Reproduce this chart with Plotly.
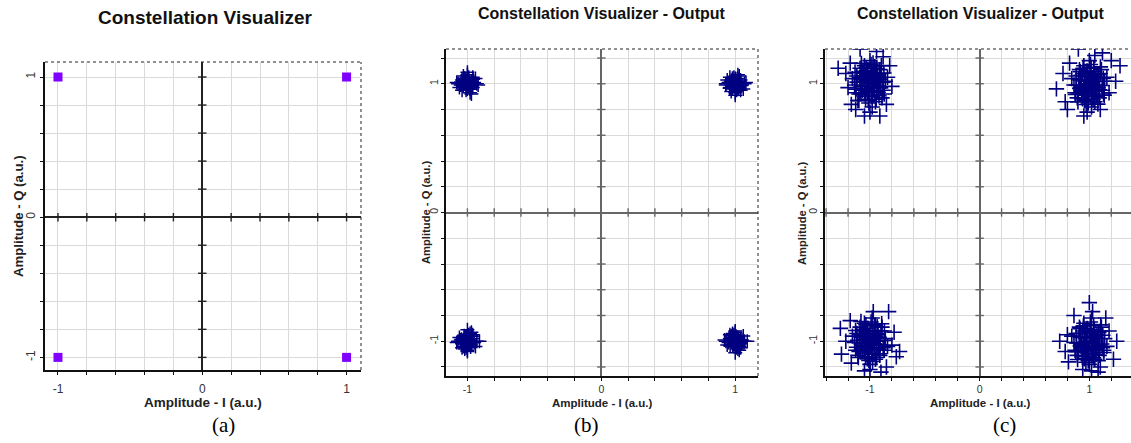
import plotly.graph_objects as go

# ---------------- data ----------------
# (a) ideal QPSK constellation
a_I = [-1, 1, -1, 1]
a_Q = [1, 1, -1, -1]

# (b) output, low noise (one list per symbol cluster)
b_tl_I = [-1.00,-0.97,-1.03,-0.98,-1.02,-0.95,-1.05,-0.99,-1.01,-0.96,-1.04,-0.93,-1.07,-1.00,-0.98,-1.02,-0.97,-1.03,-0.94,-1.06,-1.00,-0.99,-1.01,-0.96,-1.04,-0.92,-1.08,-1.00,-0.97,-1.03,
          -1.013,-0.987,-1.028,-0.972,-1.041,-0.958,-1.006,-0.994,-1.022,-0.978,-1.035,-0.965,-1.011,-0.989,-1.047]
b_tl_Q = [1.00,1.02,0.98,0.96,1.04,1.01,0.99,1.05,0.95,0.97,1.03,1.00,1.00,1.07,0.93,1.02,0.98,1.01,1.04,0.97,0.96,1.03,0.99,1.05,0.95,0.99,1.01,1.09,0.92,1.06,
          1.018,0.984,1.027,0.971,0.992,1.036,0.963,1.011,1.042,0.957,1.006,0.988,1.031,0.976,1.014]
b_tr_I = [1.00,1.03,0.97,1.02,0.98,1.05,0.95,1.01,0.99,1.04,0.96,1.07,0.93,1.00,1.02,0.98,1.03,0.97,1.06,0.94,1.00,1.01,0.99,1.04,0.96,1.08,0.93,1.00,1.03,0.97,
          1.012,0.986,1.027,0.973,1.042,0.959,1.005,0.995,1.021,0.979,1.036,0.964,1.012,0.988,1.046]
b_tr_Q = [1.00,0.98,1.02,1.04,0.96,0.99,1.01,0.95,1.05,1.03,0.97,1.00,1.00,0.93,1.07,0.98,1.02,0.99,0.96,1.03,1.04,0.97,1.01,0.95,1.05,1.01,0.99,0.91,1.06,0.94,
          0.983,1.017,0.972,1.028,1.007,0.965,1.038,0.989,0.958,1.043,0.994,1.012,0.969,1.024,0.986]
b_bl_I = [-1.00,-0.98,-1.02,-0.97,-1.03,-0.95,-1.05,-1.01,-0.99,-0.96,-1.04,-0.93,-1.07,-1.00,-0.97,-1.03,-0.98,-1.02,-0.94,-1.06,-1.01,-0.99,-1.00,-1.04,-0.96,-0.91,-1.08,-1.00,-0.98,-1.02,
          -1.016,-0.984,-1.025,-0.975,-1.038,-0.961,-1.008,-0.992,-1.024,-0.976,-1.033,-0.967,-1.013,-0.987,-1.044]
b_bl_Q = [-1.00,-1.03,-0.97,-0.96,-1.04,-1.01,-0.99,-1.05,-0.95,-0.98,-1.02,-1.00,-1.00,-1.08,-0.93,-1.02,-0.98,-1.01,-1.04,-0.97,-0.96,-1.03,-0.91,-1.05,-0.95,-1.00,-1.01,-1.07,-0.94,-1.06,
          -0.982,-1.016,-0.973,-1.029,-1.008,-0.964,-1.037,-0.988,-0.957,-1.044,-0.993,-1.011,-0.968,-1.026,-0.985]
b_br_I = [1.00,1.02,0.98,1.03,0.97,1.05,0.95,0.99,1.01,1.04,0.96,1.07,0.93,1.00,1.03,0.97,1.02,0.98,1.06,0.94,0.99,1.01,1.00,0.96,1.04,1.09,0.92,1.00,1.02,0.98,
          1.014,0.982,1.026,0.974,1.039,0.962,1.007,0.993,1.023,0.977,1.034,0.966,1.014,0.986,1.043]
b_br_Q = [-1.00,-0.97,-1.03,-1.04,-0.96,-0.99,-1.01,-0.95,-1.05,-1.02,-0.98,-1.00,-1.00,-0.93,-1.07,-0.98,-1.02,-0.99,-0.96,-1.03,-1.04,-0.97,-1.09,-0.95,-1.05,-1.00,-0.99,-0.92,-1.06,-0.94,
          -1.019,-0.983,-1.028,-0.972,-0.991,-1.035,-0.962,-1.012,-1.041,-0.956,-1.007,-0.987,-1.032,-0.977,-1.013]

# (c) output, high noise: (I, Q) points per cluster
c_tl = [(-1.00,1.00),(-0.95,1.05),(-1.05,0.96),(-0.92,0.98),(-1.08,1.03),(-0.98,0.90),(-1.02,1.10),(-0.90,1.08),
        (-1.10,0.92),(-0.96,1.12),(-1.04,0.88),(-0.88,0.95),(-1.12,1.06),(-0.94,0.94),(-1.06,1.08),(-0.99,1.15),
        (-1.01,0.85),(-0.86,1.02),(-1.14,0.99),(-0.93,1.01),(-1.03,1.02),(-0.97,0.97),(-1.07,0.95),(-0.91,1.11),
        (-1.09,1.12),(-0.89,0.89),(-1.11,0.87),(-0.95,0.86),(-1.05,1.14),(-0.84,1.05),(-1.16,1.04),(-0.87,0.92),
        (-1.13,0.93),(-1.00,1.18),(-0.98,0.82),(-1.02,0.94),(-0.96,1.04),(-1.04,1.06),(-0.94,0.99),(-1.08,0.98),
        (-1.013,1.032),(-0.962,0.947),(-1.047,1.017),(-0.931,1.063),(-1.083,0.923),(-0.978,1.087),(-1.026,0.963),
        (-0.947,1.024),(-1.064,1.096),(-0.903,0.968),(-1.118,1.013),(-0.987,0.913),(-1.034,1.123),(-0.918,0.907),
        (-1.092,1.047),(-0.956,1.133),(-1.041,0.904),(-0.873,1.083),(-1.127,0.958),(-0.994,1.058),(-1.007,0.937),
        (-0.938,1.117),(-1.069,0.981),(-0.967,1.002),(-1.021,1.076),(-0.912,1.036),(-1.101,0.869),(-0.983,0.976),
        (-1.055,1.041),(-0.943,0.879),(-1.136,1.089),(-0.896,1.141),(-1.016,0.873),(-0.972,1.161),(-1.078,1.158),
        (-0.925,0.934),(-1.049,0.929),(-0.951,1.073),(-1.029,1.099),(-0.881,1.012),
        (-1.29,1.12),(-1.09,1.27),(-0.94,1.25),(-1.05,0.75),(-0.91,0.75),(-0.85,0.84),(-1.18,1.16),(-0.82,1.14),
        (-1.17,0.84),(-0.80,0.98),(-1.20,0.97),(-1.13,0.80),(-0.88,1.21),(-1.00,0.78),(-1.22,1.08)]
c_tr = [(1.00,1.00),(1.05,1.04),(0.95,0.96),(1.08,0.97),(0.92,1.03),(1.02,0.90),(0.98,1.10),(1.10,1.08),
        (0.90,0.92),(1.04,1.12),(0.96,0.88),(1.12,0.95),(0.88,1.06),(1.06,0.94),(0.94,1.08),(1.01,1.15),
        (0.99,0.85),(1.14,1.02),(0.86,0.99),(1.03,1.01),(0.97,0.98),(1.07,1.05),(0.93,0.95),(1.09,0.89),
        (0.91,1.11),(1.11,1.11),(0.89,0.89),(1.05,0.86),(0.95,1.14),(1.16,1.05),(0.84,1.04),(1.13,0.92),
        (0.87,0.93),(1.00,1.18),(1.02,0.82),(0.98,0.94),(1.04,1.06),(0.96,1.02),(1.06,0.99),(0.92,0.97),
        (1.013,0.968),(0.962,1.053),(1.047,0.983),(0.931,0.937),(1.083,1.077),(0.978,0.913),(1.026,1.037),
        (0.947,0.976),(1.064,0.904),(0.903,1.032),(1.118,0.987),(0.987,1.087),(1.034,0.877),(0.918,1.093),
        (1.092,0.953),(0.956,0.867),(1.041,1.096),(0.873,0.917),(1.127,1.042),(0.994,0.942),(1.007,1.063),
        (0.938,0.883),(1.069,1.019),(0.967,0.998),(1.021,0.924),(0.912,0.964),(1.101,1.131),(0.983,1.024),
        (1.055,0.959),(0.943,1.121),(1.136,0.911),(0.896,0.859),(1.016,1.127),(0.972,0.839),(1.078,0.842),
        (0.925,1.066),(1.049,1.071),(0.951,0.927),(1.029,0.901),(0.881,0.988),
        (0.70,0.96),(0.76,1.08),(1.28,1.14),(0.90,1.27),(1.12,1.24),(0.95,0.75),(0.98,0.78),(0.78,0.86),
        (1.18,0.93),(1.20,1.18),(0.82,1.16),(1.10,0.80),(1.24,1.02),(1.05,1.22),(0.80,0.80)]
c_bl = [(-1.00,-1.00),(-0.95,-0.96),(-1.05,-1.04),(-0.92,-1.03),(-1.08,-0.97),(-0.98,-1.10),(-1.02,-0.90),(-0.90,-0.92),
        (-1.10,-1.08),(-0.96,-0.88),(-1.04,-1.12),(-0.88,-1.05),(-1.12,-0.94),(-0.94,-1.06),(-1.06,-0.92),(-0.99,-0.85),
        (-1.01,-1.15),(-0.86,-0.98),(-1.14,-1.01),(-0.97,-1.01),(-1.03,-0.98),(-0.93,-0.95),(-1.07,-1.05),(-0.91,-1.11),
        (-1.09,-0.89),(-0.89,-0.89),(-1.11,-1.11),(-0.95,-1.14),(-1.05,-0.86),(-0.84,-1.04),(-1.16,-0.96),(-0.87,-1.07),
        (-1.13,-1.07),(-1.00,-1.18),(-0.98,-0.82),(-1.02,-1.06),(-0.96,-1.02),(-1.04,-0.94),(-0.94,-1.00),(-1.08,-1.02),
        (-1.017,-0.962),(-0.958,-1.049),(-1.044,-0.987),(-0.927,-0.941),(-1.087,-1.072),(-0.973,-0.918),(-1.031,-1.033),
        (-0.942,-0.971),(-1.068,-0.909),(-0.907,-1.028),(-1.113,-0.992),(-0.982,-1.083),(-1.037,-0.871),(-0.914,-1.097),
        (-1.096,-0.948),(-0.951,-0.872),(-1.046,-1.091),(-0.868,-0.921),(-1.122,-1.047),(-0.999,-0.946),(-1.004,-1.067),
        (-0.934,-0.887),(-1.073,-1.014),(-0.963,-0.994),(-1.025,-0.928),(-0.916,-0.969),(-1.106,-1.126),(-0.978,-1.028),
        (-1.059,-0.955),(-0.939,-1.126),(-1.131,-0.916),(-0.893,-0.864),(-1.012,-1.122),(-0.976,-1.157),(-1.082,-0.847),
        (-0.921,-1.061),(-1.053,-1.076),(-0.955,-0.923),(-1.024,-1.137),(-0.866,-0.993),
        (-1.27,-0.90),(-1.26,-1.10),(-1.22,-1.00),(-0.73,-1.08),(-0.80,-1.03),(-0.78,-0.93),(-0.83,-0.77),(-0.97,-0.77),
        (-1.05,-1.23),(-0.85,-1.20),(-1.17,-1.17),(-0.90,-1.24),(-1.18,-0.84),(-0.76,-1.12),(-1.00,-1.22)]
c_br = [(1.00,-1.00),(1.05,-0.96),(0.95,-1.04),(1.08,-1.03),(0.92,-0.97),(1.02,-1.10),(0.98,-0.90),(1.10,-0.92),
        (0.90,-1.08),(1.04,-0.88),(0.96,-1.12),(1.12,-1.05),(0.88,-0.94),(1.06,-1.06),(0.94,-0.92),(1.01,-0.85),
        (0.99,-1.15),(1.14,-0.98),(0.86,-1.01),(1.03,-1.01),(0.97,-0.98),(1.07,-0.95),(0.93,-1.05),(1.09,-1.11),
        (0.91,-0.89),(1.11,-0.89),(0.89,-1.11),(1.05,-1.14),(0.95,-0.86),(1.16,-1.04),(0.84,-0.96),(1.13,-1.07),
        (0.87,-1.07),(1.00,-1.18),(1.02,-0.82),(0.98,-1.06),(1.04,-1.02),(0.96,-0.94),(1.06,-1.00),(0.92,-1.02),
        (1.023,-1.012),(0.958,-0.941),(1.052,-1.058),(0.927,-1.026),(1.087,-0.932),(0.971,-1.083),(1.031,-0.965),
        (0.942,-1.047),(1.061,-1.104),(0.908,-0.962),(1.114,-1.021),(0.984,-0.917),(1.038,-1.128),(0.914,-0.903),
        (1.096,-1.043),(0.953,-1.137),(1.045,-0.909),(0.876,-1.081),(1.123,-0.954),(0.991,-1.052),(1.011,-0.936),
        (0.935,-1.113),(1.072,-0.978),(0.963,-1.006),(1.018,-1.074),(0.917,-1.037),(1.104,-0.873),(0.979,-0.972),
        (1.058,-1.044),(0.946,-0.881),(1.133,-1.088),(0.893,-1.142),(1.014,-0.871),(0.969,-1.163),(1.081,-1.152),
        (0.922,-0.938),(1.046,-0.927),(0.954,-1.072),(1.026,-1.096),(0.884,-1.013),
        (1.00,-0.70),(1.03,-0.77),(0.73,-1.00),(0.80,-0.95),(1.22,-1.14),(0.81,-1.16),(1.02,-1.23),(0.94,-1.22),
        (1.10,-1.20),(1.18,-0.92),(1.25,-1.00),(0.86,-0.80),(1.15,-0.82),(0.78,-1.08),(1.08,-1.24)]

tick_vals = [-1.4, -1.2, -1.0, -0.8, -0.6, -0.4, -0.2, 0.0, 0.2, 0.4, 0.6, 0.8, 1.0, 1.2, 1.4]
tick_text = ["", "", "-1", "", "", "", "", "0", "", "", "", "", "1", "", ""]

titles = ["Constellation Visualizer", "Constellation Visualizer - Output", "Constellation Visualizer - Output"]
x_title = "Amplitude - I (a.u.)"
y_title = "Amplitude - Q (a.u.)"
panel_labels = ["(a)", "(b)", "(c)"]

# ---------------- styling / layout ----------------
W, H = 1131, 443
SANS = "Liberation Sans, Arial, sans-serif"
SERIF = "Liberation Serif, Times New Roman, serif"
NAVY = "#000080"
GRID = "#dadada"

# plot-area pixel boxes: (left, right, top, bottom)
boxes = [(45, 361, 62, 370), (446, 758, 49, 376), (825, 1131, 49, 376)]
xranges = [[-1.09, 1.10], [-1.16, 1.17], [-1.41, 1.38]]
yranges = [[-1.09, 1.107], [-1.27, 1.27], [-1.27, 1.27]]
zcolors = ["#222222", "#666666", "#666666"]
tickfs = [12, 10.5, 10.5]
x_standoff = [4, -1, -1]
y_standoff = [0, -1, -1]

fig = go.Figure()

def ax_names(i):
    s = "" if i == 0 else str(i + 1)
    return "x" + s, "y" + s, "xaxis" + s, "yaxis" + s

# panel (a)
xa, ya, _, _ = ax_names(0)
fig.add_trace(go.Scatter(x=a_I, y=a_Q, mode="markers", xaxis=xa, yaxis=ya,
                         marker=dict(symbol="square", size=9, color="#7f00ff",
                                     line=dict(width=0)), hoverinfo="skip"))

cross = dict(symbol="cross-thin", size=10, color=NAVY, line=dict(width=1.5, color=NAVY))
cross_c = dict(symbol="cross-thin", size=11, color=NAVY, line=dict(width=1.6, color=NAVY))
xb, yb, _, _ = ax_names(1)
for I, Q in [(b_tl_I, b_tl_Q), (b_tr_I, b_tr_Q), (b_bl_I, b_bl_Q), (b_br_I, b_br_Q)]:
    fig.add_trace(go.Scatter(x=I, y=Q, mode="markers", xaxis=xb, yaxis=yb,
                             marker=cross, hoverinfo="skip"))
xc, yc, _, _ = ax_names(2)
for pts in [c_tl, c_tr, c_bl, c_br]:
    fig.add_trace(go.Scatter(x=[p[0] for p in pts], y=[p[1] for p in pts], mode="markers",
                             xaxis=xc, yaxis=yc, marker=cross_c, hoverinfo="skip"))

layout = dict(width=W, height=H, autosize=False, showlegend=False,
              margin=dict(l=0, r=0, t=0, b=0, pad=0, autoexpand=False),
              paper_bgcolor="white", plot_bgcolor="white")
shapes, annotations = [], []

for i in range(3):
    L, R, T, B = boxes[i]
    xn, yn, xk, yk = ax_names(i)
    common = dict(tickvals=tick_vals, ticktext=tick_text, showgrid=True, gridcolor=GRID, gridwidth=1,
                  zeroline=True, zerolinecolor=zcolors[i], zerolinewidth=1.6,
                  showline=True, linecolor="#111111", linewidth=1.8,
                  ticks="outside", ticklen=3, tickwidth=1.2, tickcolor="#111111",
                  tickfont=dict(family=SANS, size=tickfs[i], color="#333333"),
                  fixedrange=True)
    layout[xk] = dict(common, domain=[L / W, R / W], range=xranges[i], anchor=yn, side="bottom",
                      ticklabelstandoff=x_standoff[i])
    layout[yk] = dict(common, domain=[1 - B / H, 1 - T / H], range=yranges[i], anchor=xn, side="left",
                      tickangle=-90, ticklabelstandoff=y_standoff[i])
    # dotted top / right border
    shapes.append(dict(type="line", xref=xn + " domain", yref=yn + " domain", x0=0, x1=1, y0=1, y1=1,
                       line=dict(color="#222222", width=1, dash="dot")))
    if i < 2:
        shapes.append(dict(type="line", xref=xn + " domain", yref=yn + " domain", x0=1, x1=1, y0=0, y1=1,
                           line=dict(color="#222222", width=1, dash="dot")))
    # small tick marks along the zero lines
    xt = [v for v in tick_vals if v != 0 and xranges[i][0] < v < xranges[i][1]]
    yt = [v for v in tick_vals if v != 0 and yranges[i][0] < v < yranges[i][1]]
    fig.add_trace(go.Scatter(x=[0] * len(yt), y=yt, mode="markers", xaxis=xn, yaxis=yn, hoverinfo="skip",
                             marker=dict(symbol="line-ew", size=6, line=dict(width=1.4, color=zcolors[i]))))
    fig.add_trace(go.Scatter(x=xt, y=[0] * len(xt), mode="markers", xaxis=xn, yaxis=yn, hoverinfo="skip",
                             marker=dict(symbol="line-ns", size=6, line=dict(width=1.4, color=zcolors[i]))))

def ann(text, px, py, size, family=SANS, angle=0, color="#111111"):
    annotations.append(dict(text=text, x=px / W, y=1 - py / H, xref="paper", yref="paper",
                            xanchor="center", yanchor="middle", showarrow=False, textangle=angle,
                            font=dict(family=family, size=size, color=color)))

# titles
ann("<b>%s</b>" % titles[0], 205, 18, 19)
ann("<b>%s</b>" % titles[1], 602, 13, 16)
ann("<b>%s</b>" % titles[2], 981, 13, 16)
# axis titles
ann("<b>%s</b>" % x_title, 203, 402, 13.5, color="#222222")
ann("<b>%s</b>" % x_title, 602, 403, 11.5, color="#222222")
ann("<b>%s</b>" % x_title, 980, 403, 11.5, color="#222222")
ann("<b>%s</b>" % y_title, 18, 216, 13.2, angle=-90, color="#222222")
ann("<b>%s</b>" % y_title, 426, 213, 11.2, angle=-90, color="#222222")
ann("<b>%s</b>" % y_title, 802, 214, 11.2, angle=-90, color="#222222")
# panel labels
ann(panel_labels[0], 223, 425, 21, family=SERIF, color="#000000")
ann(panel_labels[1], 586, 425, 21, family=SERIF, color="#000000")
ann(panel_labels[2], 1004, 425, 21, family=SERIF, color="#000000")

layout["shapes"] = shapes
layout["annotations"] = annotations
fig.update_layout(**layout)
fig.write_html("out.html", config=dict(displayModeBar=False),
               post_script="document.body.style.margin='0px';")
